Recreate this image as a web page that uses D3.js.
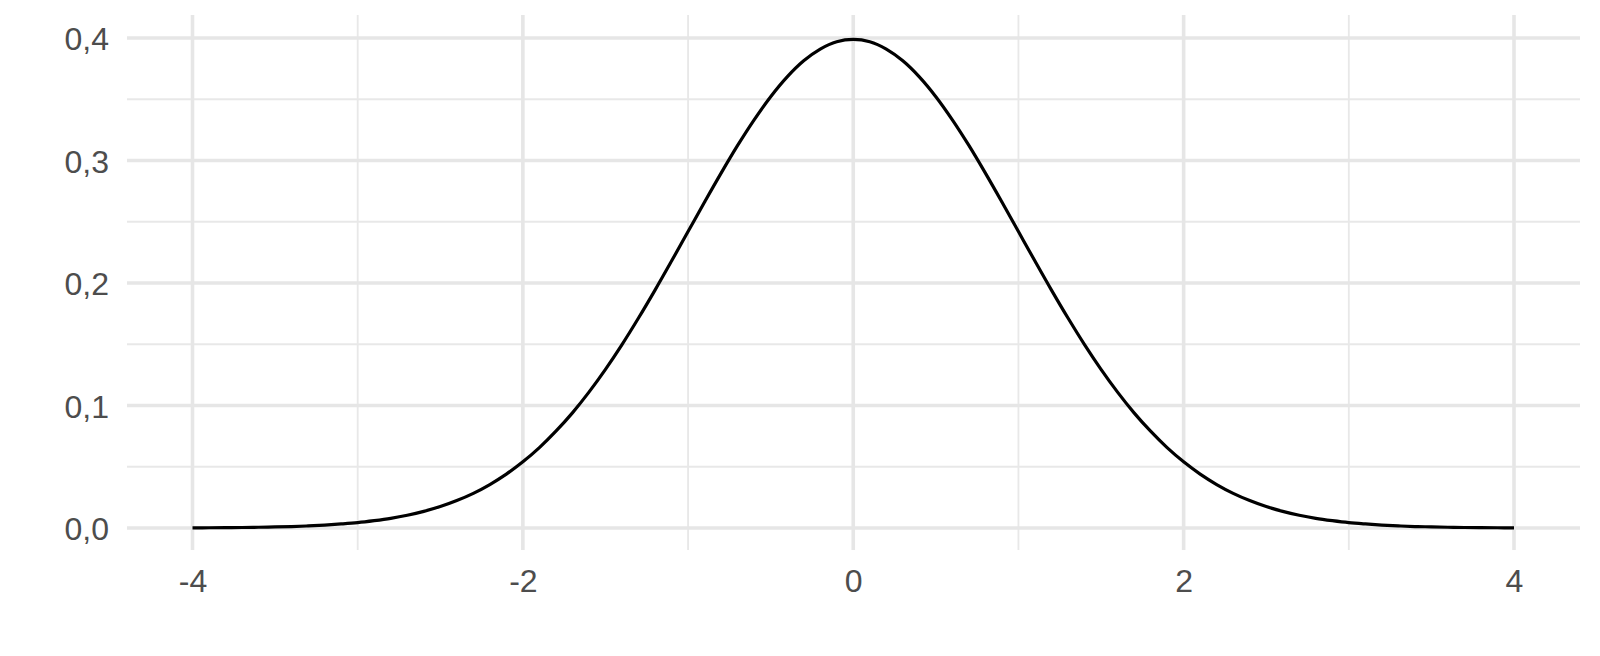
<!DOCTYPE html>
<html>
<head>
<meta charset="utf-8">
<script src="https://cdn.jsdelivr.net/npm/d3@7"></script>
<style>
  body { margin: 0; background: #fff; }
  svg { display: block; }
</style>
</head>
<body>
<div id="chart"></div>
<script>
// values, every 0.1 on x
var xs = [-4.0, -3.9, -3.8, -3.7, -3.6, -3.5, -3.4, -3.3, -3.2, -3.1,
          -3.0, -2.9, -2.8, -2.7, -2.6, -2.5, -2.4, -2.3, -2.2, -2.1,
          -2.0, -1.9, -1.8, -1.7, -1.6, -1.5, -1.4, -1.3, -1.2, -1.1,
          -1.0, -0.9, -0.8, -0.7, -0.6, -0.5, -0.4, -0.3, -0.2, -0.1,
           0.0,  0.1,  0.2,  0.3,  0.4,  0.5,  0.6,  0.7,  0.8,  0.9,
           1.0,  1.1,  1.2,  1.3,  1.4,  1.5,  1.6,  1.7,  1.8,  1.9,
           2.0,  2.1,  2.2,  2.3,  2.4,  2.5,  2.6,  2.7,  2.8,  2.9,
           3.0,  3.1,  3.2,  3.3,  3.4,  3.5,  3.6,  3.7,  3.8,  3.9, 4.0];
var density = [0.0001, 0.0002, 0.0003, 0.0004, 0.0006, 0.0009, 0.0012, 0.0017, 0.0024, 0.0033,
               0.0044, 0.0060, 0.0079, 0.0104, 0.0136, 0.0175, 0.0224, 0.0283, 0.0355, 0.0440,
               0.0540, 0.0656, 0.0790, 0.0940, 0.1109, 0.1295, 0.1497, 0.1714, 0.1942, 0.2179,
               0.2420, 0.2661, 0.2897, 0.3123, 0.3332, 0.3521, 0.3683, 0.3814, 0.3910, 0.3970,
               0.3989, 0.3970, 0.3910, 0.3814, 0.3683, 0.3521, 0.3332, 0.3123, 0.2897, 0.2661,
               0.2420, 0.2179, 0.1942, 0.1714, 0.1497, 0.1295, 0.1109, 0.0940, 0.0790, 0.0656,
               0.0540, 0.0440, 0.0355, 0.0283, 0.0224, 0.0175, 0.0136, 0.0104, 0.0079, 0.0060,
               0.0044, 0.0033, 0.0024, 0.0017, 0.0012, 0.0009, 0.0006, 0.0004, 0.0003, 0.0002, 0.0001];
var xTicks = [-4, -2, 0, 2, 4];
var xMinor = [-3, -1, 1, 3];
var yTicks = [0, 0.1, 0.2, 0.3, 0.4];
var yMinor = [0.05, 0.15, 0.25, 0.35];

var width = 1600, height = 656;
var panel = {left: 127, right: 1580, top: 15, bottom: 550};

var x = d3.scaleLinear().domain([-4, 4]).range([192.5, 1514]);
var y = d3.scaleLinear().domain([0, 0.4]).range([528, 38]);

var svg = d3.select("#chart").append("svg")
  .attr("width", width)
  .attr("height", height);

var grid = svg.append("g");

// minor grid
grid.selectAll("line.vminor").data(xMinor).enter().append("line")
  .attr("x1", function(d){ return x(d); }).attr("x2", function(d){ return x(d); })
  .attr("y1", panel.top).attr("y2", panel.bottom)
  .attr("stroke", "#e8e8e8").attr("stroke-width", 1.8);
grid.selectAll("line.hminor").data(yMinor).enter().append("line")
  .attr("y1", function(d){ return y(d); }).attr("y2", function(d){ return y(d); })
  .attr("x1", panel.left).attr("x2", panel.right)
  .attr("stroke", "#e8e8e8").attr("stroke-width", 1.8);

// major grid
grid.selectAll("line.vmajor").data(xTicks).enter().append("line")
  .attr("x1", function(d){ return x(d); }).attr("x2", function(d){ return x(d); })
  .attr("y1", panel.top).attr("y2", panel.bottom)
  .attr("stroke", "#e6e6e6").attr("stroke-width", 3.6);
grid.selectAll("line.hmajor").data(yTicks).enter().append("line")
  .attr("y1", function(d){ return y(d); }).attr("y2", function(d){ return y(d); })
  .attr("x1", panel.left).attr("x2", panel.right)
  .attr("stroke", "#e6e6e6").attr("stroke-width", 3.6);

// axes: labels only, theme_minimal style
var fmt = function(d){ return d3.format(".1f")(d).replace(".", ","); };

var yAxis = svg.append("g")
  .attr("transform", "translate(" + (panel.left - 18) + ",0)")
  .call(d3.axisLeft(y).tickValues(yTicks).tickFormat(fmt).tickSize(0).tickPadding(0));
yAxis.select(".domain").remove();
yAxis.selectAll("text")
  .attr("dy", "0.36em")
  .attr("fill", "#4d4d4d")
  .style("font-family", "'Liberation Sans', Arial, sans-serif")
  .style("font-size", "32px");

var xAxis = svg.append("g")
  .attr("transform", "translate(0," + (panel.bottom + 18) + ")")
  .call(d3.axisBottom(x).tickValues(xTicks).tickFormat(function(d){ return String(d); }).tickSize(0).tickPadding(0));
xAxis.select(".domain").remove();
xAxis.selectAll("text")
  .attr("dy", "0.74em")
  .attr("fill", "#4d4d4d")
  .style("font-family", "'Liberation Sans', Arial, sans-serif")
  .style("font-size", "32px");

// curve
var pts = xs.map(function(d, i){ return [d, density[i]]; });
var line = d3.line()
  .x(function(d){ return x(d[0]); })
  .y(function(d){ return y(d[1]); })
  .curve(d3.curveCatmullRom.alpha(0.5));

svg.append("path")
  .datum(pts)
  .attr("d", line)
  .attr("fill", "none")
  .attr("stroke", "#000")
  .attr("stroke-width", 3.2);
</script>
</body>
</html>
